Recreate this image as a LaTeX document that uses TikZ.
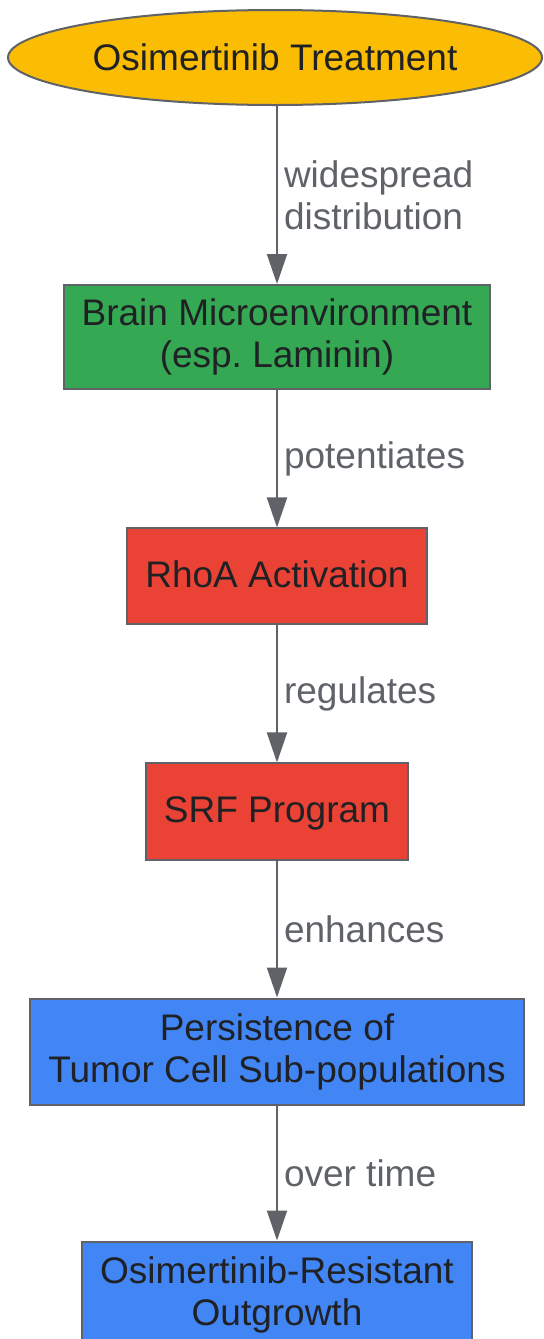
\documentclass[tikz,border=0pt]{standalone}
\usepackage{fontspec}
\setmainfont{Liberation Sans}
\usetikzlibrary{shapes,arrows.meta,positioning}

\definecolor{gyellow}{HTML}{FBBC04}
\definecolor{ggreen}{HTML}{34A853}
\definecolor{gred}{HTML}{EA4335}
\definecolor{gblue}{HTML}{4285F4}
\definecolor{edgegray}{HTML}{5F6368}
\definecolor{textdark}{HTML}{202124}

\begin{document}
\begin{tikzpicture}[
			font=\fontsize{18.5}{21}\selectfont,
			start/.style={ellipse, draw=edgegray, line width=1pt, fill=gyellow, text=textdark, minimum width=267pt, minimum height=47.5pt, inner sep=0pt},
			block/.style={rectangle, draw=edgegray, line width=1pt, text=textdark, align=center, inner xsep=9pt, inner ysep=7pt, minimum height=48pt},
			envbox/.style={block, fill=ggreen},
			signal/.style={block, fill=gred, text height=15pt, text depth=4pt},
			outcome/.style={block, fill=gblue, minimum height=53pt},
			link/.style={draw=edgegray, line width=1pt, -{Triangle[length=15pt,width=10pt]}},
			tag/.style={anchor=west, text=edgegray, align=left, inner sep=3pt}
		]
		\path[use as bounding box, clip] (-138.5pt,28.75pt) rectangle (133pt,-640.75pt);

		% Treatment
		\node[start] (treat) at (-1pt,0) {Osimertinib Treatment};

		% Mechanism
		\node[envbox, below=89pt of treat, xshift=1pt] (env) {Brain Microenvironment\\(esp.\ Laminin)};
		\node[signal, below=68.5pt of env] (rhoa) {RhoA Activation};
		\node[signal, below=68.5pt of rhoa] (srf) {SRF Program};

		% Outcomes
		\node[outcome, below=68.5pt of srf] (persist) {Persistence of\\Tumor Cell Sub-populations};
		\node[outcome, below=67.5pt of persist] (resist) {Osimertinib-Resistant\\Outgrowth};

		% Connections
		\draw[link] (treat.south -| env.north) -- node[tag] {widespread\\distribution} (env);
		\draw[link] (env) -- node[tag] {potentiates} (rhoa);
		\draw[link] (rhoa) -- node[tag] {regulates} (srf);
		\draw[link] (srf) -- node[tag] {enhances} (persist);
		\draw[link] (persist) -- node[tag] {over time} (resist);

	\end{tikzpicture}
\end{document}
